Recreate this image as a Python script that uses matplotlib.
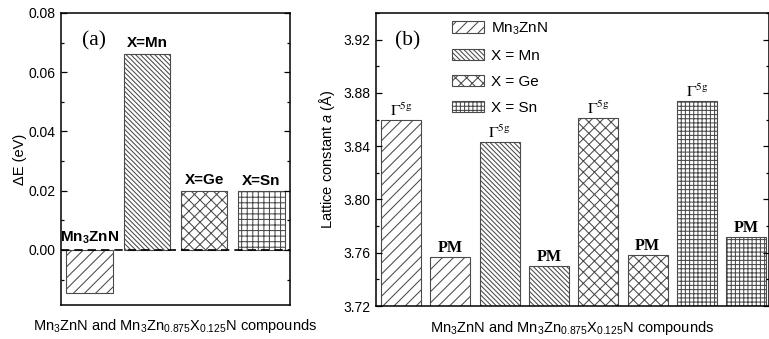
import matplotlib
matplotlib.use('Agg')
import matplotlib.pyplot as plt
from matplotlib.ticker import MultipleLocator, FormatStrFormatter
from matplotlib.patches import Patch

plt.rcParams['font.family'] = ['Liberation Sans', 'DejaVu Sans']
plt.rcParams['mathtext.fontset'] = 'custom'
plt.rcParams['mathtext.rm'] = 'Liberation Sans'
plt.rcParams['mathtext.it'] = 'Liberation Sans:italic'
plt.rcParams['mathtext.bf'] = 'Liberation Sans:bold'
plt.rcParams['hatch.linewidth'] = 0.75

# data
labels_a = ['Mn$_\\mathbf{3}$ZnN', 'X=Mn', 'X=Ge', 'X=Sn']
delta_e = [-0.0145, 0.0663, 0.0200, 0.0199]

legend_labels = ['Mn$_3$ZnN', 'X = Mn', 'X = Ge', 'X = Sn']
lattice_gamma = [3.8595, 3.8428, 3.8608, 3.8740]
lattice_pm = [3.7568, 3.7498, 3.7580, 3.7718]

hatches_a = ['///', '\\' * 7, 'xxx', '+++']
hatches_b = ['///', '\\' * 7, 'xxx', '++++']
edge = '#4a4a4a'
xlabel = 'Mn$_3$ZnN and Mn$_3$Zn$_{0.875}$X$_{0.125}$N compounds'

fig = plt.figure(figsize=(7.69, 3.39), dpi=100)
ax1 = fig.add_axes([0.0793, 0.1003, 0.2978, 0.8614])
ax2 = fig.add_axes([0.4886, 0.0973, 0.5114, 0.8644])


def style_axis(ax):
    ax.tick_params(axis='y', which='both', direction='in', left=True, right=True,
                   labelsize=10, width=0.9, pad=4)
    ax.tick_params(axis='y', which='major', length=4.5)
    ax.tick_params(axis='y', which='minor', length=2.5)
    ax.set_xticks([])
    for sp in ax.spines.values():
        sp.set_linewidth(1.1)


# ---- panel (a)
xa = list(range(1, len(delta_e) + 1))
for x, v, h, lab in zip(xa, delta_e, hatches_a, labels_a):
    ax1.bar(x, v, width=0.81, fill=False, hatch=h, edgecolor=edge, linewidth=0.8)
    ax1.annotate(lab, (x, max(v, 0)), xytext=(0, 2.5), textcoords='offset points',
                 ha='center', va='bottom', fontsize=11, fontweight='bold')
ax1.axhline(0, color='black', linestyle=(0, (5, 3)), linewidth=1.2)
ax1.set_xlim(0.5, 4.5)
ax1.set_ylim(-0.0186, 0.08)
ax1.yaxis.set_major_locator(MultipleLocator(0.02))
ax1.yaxis.set_minor_locator(MultipleLocator(0.01))
ax1.yaxis.set_major_formatter(FormatStrFormatter('%.2f'))
style_axis(ax1)
ax1.set_ylabel('ΔE (eV)', fontsize=10.5, labelpad=1)
ax1.set_xlabel(xlabel, fontsize=10.5, labelpad=9)
ax1.text(0.144, 0.905, '(a)', transform=ax1.transAxes, fontsize=15.5,
         family='Liberation Serif', ha='center', va='center')

# ---- panel (b)
handles = []
for i, (g, p, h, lab) in enumerate(zip(lattice_gamma, lattice_pm, hatches_b, legend_labels)):
    xs = [2 * i + 1, 2 * i + 2]
    ax2.bar(xs, [g, p], width=0.81, bottom=0, fill=False, hatch=h,
            edgecolor=edge, linewidth=0.8)
    ax2.annotate(r'$\Gamma^{\mathrm{5g}}$', (xs[0], g), xytext=(0, 1),
                 textcoords='offset points', ha='center', va='bottom',
                 fontsize=11.5, math_fontfamily='stix')
    ax2.annotate('PM', (xs[1], p), xytext=(0, 1), textcoords='offset points',
                 ha='center', va='bottom', fontsize=11.5,
                 family='Liberation Serif', fontweight='bold')
    handles.append(Patch(fill=False, hatch=h, edgecolor=edge, linewidth=0.8, label=lab))
ax2.set_xlim(0.49, 8.46)
ax2.set_ylim(3.72, 3.94)
ax2.yaxis.set_major_locator(MultipleLocator(0.04))
ax2.yaxis.set_minor_locator(MultipleLocator(0.02))
style_axis(ax2)
ax2.set_ylabel('Lattice constant $a$ (Å)', fontsize=10.5, labelpad=4)
ax2.set_xlabel(xlabel, fontsize=10.5, labelpad=9)
ax2.text(0.08, 0.905, '(b)', transform=ax2.transAxes, fontsize=15.5,
         family='Liberation Serif', ha='center', va='center')
ax2.legend(handles=handles, loc='upper left', bbox_to_anchor=(0.194, 0.975),
           frameon=False, fontsize=11, handlelength=2.1, handleheight=0.8,
           handletextpad=0.45, labelspacing=0.78, borderpad=0, borderaxespad=0)

fig.savefig('out.png', dpi=100)
